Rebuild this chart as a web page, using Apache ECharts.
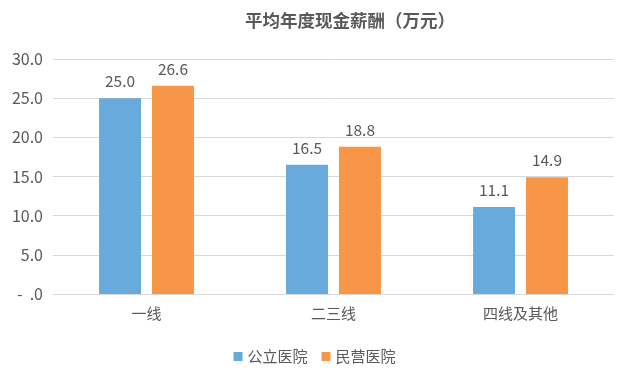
<!DOCTYPE html>
<html><head><meta charset="utf-8">
<script src="https://cdn.jsdelivr.net/npm/echarts@6/dist/echarts.min.js"></script>
<style>html,body{margin:0;padding:0;background:#fff}#c{width:629px;height:376px}</style>
</head><body><div id="c"></div>
<script>
const categories = ['一线', '二三线', '四线及其他'];
const publicHosp = [25.0, 16.5, 11.1];
const privateHosp = [26.6, 18.8, 14.9];
const seriesNames = ['公立医院', '民营医院'];
const chart = echarts.init(document.getElementById('c'));
const font = '"Noto Sans CJK SC", "Noto Sans", sans-serif';
chart.setOption({
  animation: false,
  textStyle: {fontFamily: font},
  title: {text: '平均年度现金薪酬（万元）', left: 240, top: 7,
    textStyle: {fontSize: 17.5, fontWeight: 'bold', color: '#595959', fontFamily: font}},
  legend: {bottom: 7, itemWidth: 9, itemHeight: 9, itemGap: 14, icon: 'rect',
    textStyle: {fontSize: 15, color: '#595959', fontFamily: font}},
  grid: {left: 53, right: 15, top: 59, bottom: 82},
  xAxis: {type: 'category', data: categories,
    axisLine: {lineStyle: {color: '#d9d9d9'}}, axisTick: {show: false},
    axisLabel: {fontSize: 15, color: '#595959', margin: 12}},
  yAxis: {type: 'value', min: 0, max: 30, interval: 5,
    axisLine: {show: false}, axisTick: {show: false},
    splitLine: {lineStyle: {color: '#d9d9d9'}},
    axisLabel: {fontSize: 16, color: '#595959', margin: 10,
      formatter: v => v === 0 ? '-  .0' : v.toFixed(1)}},
  series: [
    {name: seriesNames[0], type: 'bar', data: publicHosp, barWidth: 42, barGap: '26%',
      itemStyle: {color: '#69aadc'},
      label: {show: true, position: 'top', distance: 9, fontSize: 15.5, color: '#595959', formatter: p => p.value.toFixed(1)}},
    {name: seriesNames[1], type: 'bar', data: privateHosp, barWidth: 42,
      itemStyle: {color: '#f79646'},
      label: {show: true, position: 'top', distance: 9, fontSize: 15.5, color: '#595959', formatter: p => p.value.toFixed(1)}}
  ]
});
</script></body></html>
